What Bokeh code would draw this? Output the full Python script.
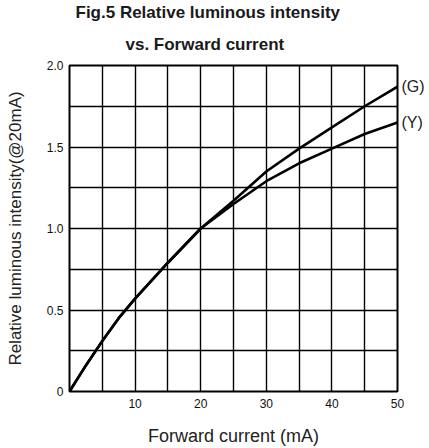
from bokeh.plotting import figure
from bokeh.models import FixedTicker, LinearAxis, Title
from bokeh.embed import file_html
from bokeh.resources import INLINE

# Data
current_ma = [0, 2.5, 5, 7.5, 10, 15, 20, 25, 30, 35, 40, 45, 50]
green_rel = [0, 0.16, 0.31, 0.45, 0.57, 0.79, 1.0, 1.17, 1.35, 1.49, 1.62, 1.75, 1.87]
yellow_rel = [0, 0.16, 0.31, 0.45, 0.57, 0.79, 1.0, 1.15, 1.29, 1.40, 1.49, 1.58, 1.65]
series_names = ["(G)", "(Y)"]

x_ticks = [10, 20, 30, 40, 50]
x_grid = [0, 5, 10, 15, 20, 25, 30, 35, 40, 45, 50]
y_ticks = [0, 0.5, 1.0, 1.5, 2.0]
y_tick_labels = ["0", "0.5", "1.0", "1.5", "2.0"]
y_grid = [0, 0.25, 0.5, 0.75, 1.0, 1.25, 1.5, 1.75, 2.0]

title_lines = ["Fig.5 Relative luminous intensity", "vs. Forward current"]

FONT = "Liberation Sans"
W, H = 429, 448

p = figure(width=W, height=H, x_range=(0, 50), y_range=(0, 2),
           output_backend="svg", toolbar_location=None, title=None,
           min_border_left=69, min_border_top=64,
           min_border_right=W - 397, min_border_bottom=H - 393)
p.background_fill_color = "white"
p.border_fill_color = "white"
p.outline_line_color = "black"
p.outline_line_width = 2
p.outline_line_alpha = 1

# grids
p.xgrid.ticker = FixedTicker(ticks=x_grid)
p.ygrid.ticker = FixedTicker(ticks=y_grid)
for g in (p.xgrid, p.ygrid):
    g.grid_line_color = "black"
    g.grid_line_width = 1.4
    g.grid_line_alpha = 1

# series labels as a right-hand axis at the curve end values
end_vals = [green_rel[-1], yellow_rel[-1]]
right_axis = LinearAxis(ticker=FixedTicker(ticks=end_vals),
                        major_label_overrides={v: n for v, n in zip(end_vals, series_names)})
p.add_layout(right_axis, "right")

# axes
p.xaxis.ticker = FixedTicker(ticks=x_ticks)
p.yaxis[0].ticker = FixedTicker(ticks=y_ticks)
p.yaxis[0].major_label_overrides = {t: s for t, s in zip(y_ticks, y_tick_labels)}
for ax in (p.xaxis[0], p.yaxis[0], right_axis):
    ax.axis_line_color = None
    ax.major_tick_line_color = None
    ax.minor_tick_line_color = None
    ax.major_tick_out = 0
    ax.major_tick_in = 0
    ax.major_label_text_font = FONT
    ax.major_label_text_font_size = "12px"
    ax.major_label_text_color = "#111111"
    ax.axis_label_text_font = FONT
    ax.axis_label_text_font_size = "17px"
    ax.axis_label_text_font_style = "normal"
    ax.axis_label_text_color = "#222222"
right_axis.major_label_text_font_size = "16px"
right_axis.major_label_text_color = "#222222"
right_axis.major_label_standoff = 4
p.xaxis.axis_label = "Forward current (mA)"
p.xaxis.axis_label_text_font_size = "18px"
p.yaxis[0].axis_label = "Relative luminous intensity(@20mA)"
p.xaxis.major_label_standoff = 7
p.yaxis[0].major_label_standoff = 6
p.xaxis.axis_label_standoff = 15
p.yaxis[0].axis_label_standoff = 19

# curves
p.line(current_ma, green_rel, line_color="black", line_width=2.6)
p.line(current_ma, yellow_rel, line_color="black", line_width=2.6)

# title lines (inner line added first so it sits closest to the plot)
p.add_layout(Title(text=title_lines[1], align="left", offset=56, text_font=FONT,
                   text_font_size="17px", text_font_style="bold",
                   text_color="#1a1a1a", standoff=23), "above")
p.add_layout(Title(text=title_lines[0], align="left", offset=6, text_font=FONT,
                   text_font_size="17px", text_font_style="bold",
                   text_color="#1a1a1a", standoff=0), "above")

open("out.html", "w").write(file_html(p, INLINE))
